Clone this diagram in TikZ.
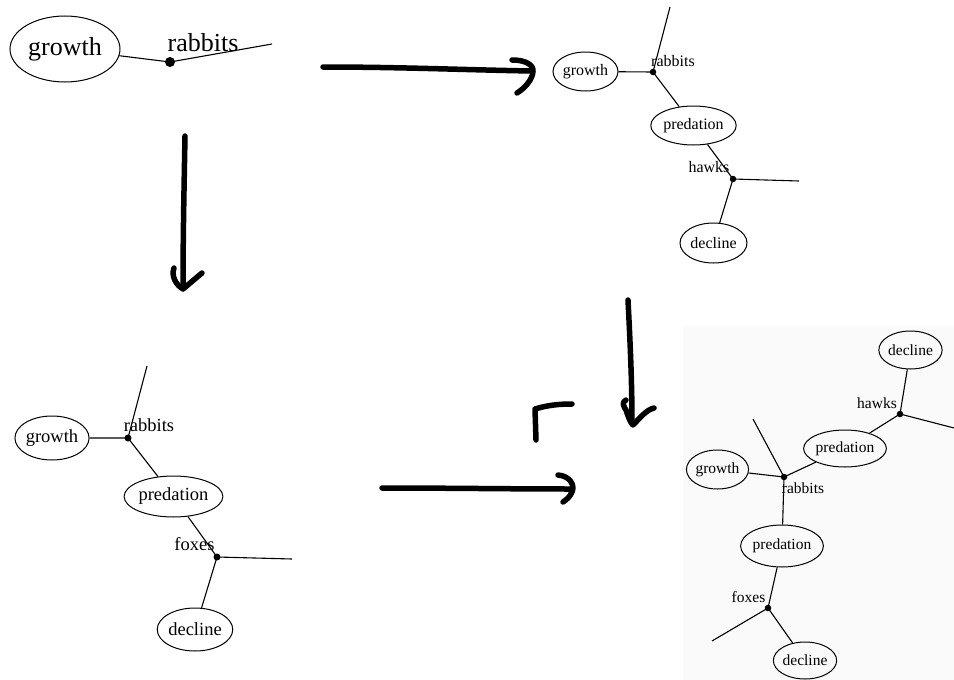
\documentclass[tikz,border=0pt]{standalone}
\usepackage{fontspec}
\setmainfont{Liberation Serif}
\usetikzlibrary{shapes.geometric}
\begin{document}
\begin{tikzpicture}[x=1pt,y=-1pt,
  oval/.style={ellipse,draw,line width=1pt,inner sep=0pt},
  junction/.style={circle,fill,inner sep=0pt,minimum size=6.5},
  link/.style={line width=1.1pt},
  tag/.style={inner sep=0pt},
  stroke/.style={line width=5.5pt,line cap=round,line join=round}]
\useasboundingbox (0,0) rectangle (954,680);
% shaded sheet behind the merged graph
\fill[black!2] (683,326) rectangle (954,680);

% ---- first graph: growth -> rabbits
\begin{scope}[font=\fontsize{26}{26}\selectfont]
  \node[oval,minimum width=110,minimum height=66] (g1) at (65,49) {growth};
  \node[junction,minimum size=10] (r1) at (170,62) {};
  \node[tag] (lr1) at (203,43) {rabbits};
  \coordinate (e1) at (272,44);
\end{scope}
\draw[link] (g1) -- (r1.center) -- (e1);

% ---- second graph: rabbits eaten by hawks
\begin{scope}[font=\fontsize{16}{16}\selectfont]
  \node[oval,minimum width=65,minimum height=39] (g2) at (585.5,71.5) {growth};
  \node[junction] (r2) at (653,72) {};
  \node[tag] (lr2) at (673,61) {rabbits};
  \coordinate (e2a) at (670,7);
  \node[oval,minimum width=83,minimum height=39] (p2) at (693.5,125.5) {predation};
  \node[junction] (h2) at (733,179) {};
  \node[tag] (lh2) at (709,167) {hawks};
  \coordinate (e2b) at (799,181);
  \node[oval,minimum width=67,minimum height=40] (d2) at (713.5,243) {decline};
\end{scope}
\draw[link] (g2) -- (r2.center) -- (e2a);
\draw[link] (r2.center) -- (p2);
\draw[link] (p2) -- (h2.center) -- (e2b);
\draw[link] (h2.center) -- (d2);

% ---- third graph: rabbits eaten by foxes
\begin{scope}[font=\fontsize{18.5}{18.5}\selectfont]
  \node[oval,minimum width=72,minimum height=44] (g3) at (52,438) {growth};
  \node[junction,minimum size=7] (r3) at (128,438) {};
  \node[tag] (lr3) at (149,425) {rabbits};
  \coordinate (e3a) at (147,366);
  \node[oval,minimum width=93,minimum height=41] (p3) at (173.5,496.5) {predation};
  \node[junction,minimum size=7] (f3) at (217,557) {};
  \node[tag] (lf3) at (194.5,544) {foxes};
  \coordinate (e3b) at (292,559);
  \node[oval,minimum width=74,minimum height=43] (d3) at (195,629.5) {decline};
\end{scope}
\draw[link] (g3) -- (r3.center) -- (e3a);
\draw[link] (r3.center) -- (p3);
\draw[link] (p3) -- (f3.center) -- (e3b);
\draw[link] (f3.center) -- (d3);

% ---- merged graph: hawks and foxes both prey on rabbits
\begin{scope}[font=\fontsize{15.5}{15.5}\selectfont]
  \node[oval,minimum width=63,minimum height=38] (d4a) at (910.5,350) {decline};
  \node[junction] (h4) at (900,414) {};
  \node[tag] (lh4) at (877,403) {hawks};
  \coordinate (e4a) at (956,428.5);
  \node[oval,minimum width=78,minimum height=37] (p4a) at (845,448.5) {predation};
  \node[oval,minimum width=61,minimum height=39] (g4) at (717.5,469.5) {growth};
  \node[junction] (r4) at (784,477) {};
  \node[tag] (lr4) at (803,488) {rabbits};
  \coordinate (e4b) at (753,419);
  \node[oval,minimum width=78,minimum height=42] (p4b) at (782,546) {predation};
  \node[junction] (f4) at (768,608) {};
  \node[tag] (lf4) at (748.5,597) {foxes};
  \coordinate (e4c) at (712,641);
  \node[oval,minimum width=62,minimum height=37] (d4b) at (805,660.5) {decline};
\end{scope}
\draw[link] (d4a) -- (h4.center) -- (e4a);
\draw[link] (h4.center) -- (p4a);
\draw[link] (p4a) -- (r4.center);
\draw[link] (g4) -- (r4.center) -- (e4b);
\draw[link] (r4.center) -- (p4b);
\draw[link] (p4b) -- (f4.center) -- (e4c);
\draw[link] (f4.center) -- (d4b);

% ---- hand-drawn transition arrows
% top: first graph to second
\draw[stroke] (323,67) .. controls (400,67) and (470,70) .. (532,71);
\draw[stroke] (512,60) .. controls (526,60) and (534,65) .. (533,72)
               .. controls (532,80) and (525,88) .. (517,93);
% left: first graph down to third
\draw[stroke] (185,136) .. controls (184,190) and (183,240) .. (183,288);
\draw[stroke] (174,268) .. controls (171,276) and (176,285) .. (183,289)
               .. controls (189,284) and (196,278) .. (202,273);
% right: second graph down to merged graph
\draw[stroke] (628,300) .. controls (630,340) and (632,380) .. (632,424);
\draw[stroke] (626,400) .. controls (621,402) and (624,407) .. (626,410)
               .. controls (628,416) and (630,422) .. (633,425)
               .. controls (640,418) and (646,410) .. (654,408);
% bottom: third graph across to merged graph
\draw[stroke] (382,488) .. controls (450,488) and (510,489) .. (571,489);
\draw[stroke] (558,475) .. controls (570,476) and (575,485) .. (572,492)
               .. controls (570,497) and (566,500) .. (563,502);
% corner mark
\draw[stroke] (536,440) -- (535,409) .. controls (548,405) and (560,404) .. (572,404);
\end{tikzpicture}
\end{document}
